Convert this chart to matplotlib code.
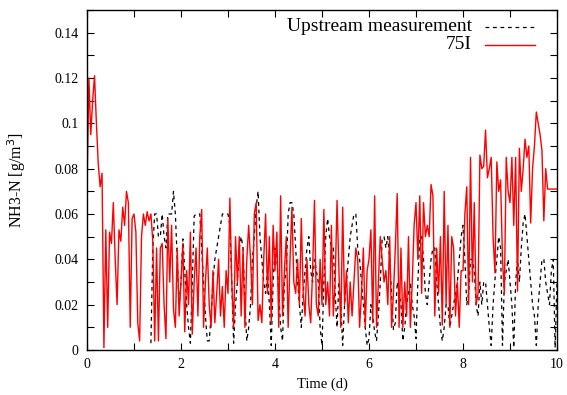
import numpy as np
import matplotlib
matplotlib.use("Agg")
import matplotlib.pyplot as plt
from matplotlib.ticker import MultipleLocator

plt.rcParams['font.family'] = ['Liberation Serif', 'DejaVu Serif']

# time grid (days), one sample every 0.04 d
time = np.linspace(0, 10, 251)
black_start = 34  # upstream measurement starts at t = 1.36 d

# 75I model output [g/m3]
nh3_75i = [
    0.070, 0.120, 0.095, 0.110, 0.121, 0.100, 0.082, 0.072, 0.078, 0.001, 0.053, 0.010, 0.052,
    0.047, 0.065, 0.040, 0.020, 0.053, 0.048, 0.063, 0.055, 0.070, 0.065, 0.010, 0.058,
    0.060, 0.052, 0.012, 0.004, 0.050, 0.060, 0.055, 0.061, 0.057, 0.060, 0.048, 0.004, 0.045,
    0.004, 0.045, 0.047, 0.020, 0.005, 0.058, 0.030, 0.055, 0.018, 0.010, 0.045, 0.015,
    0.030, 0.047, 0.008, 0.035, 0.020, 0.052, 0.007, 0.030, 0.045, 0.015, 0.050, 0.062, 0.010,
    0.030, 0.045, 0.020, 0.010, 0.035, 0.012, 0.025, 0.040, 0.015, 0.028, 0.010, 0.035,
    0.025, 0.067, 0.030, 0.010, 0.050, 0.030, 0.050, 0.015, 0.045, 0.010, 0.040, 0.055, 0.040,
    0.020, 0.060, 0.065, 0.013, 0.020, 0.012, 0.040, 0.060, 0.025, 0.050, 0.012, 0.055,
    0.035, 0.052, 0.010, 0.068, 0.015, 0.035, 0.050, 0.010, 0.040, 0.063, 0.030, 0.025, 0.040,
    0.020, 0.058, 0.025, 0.015, 0.040, 0.020, 0.012, 0.035, 0.066, 0.020, 0.015, 0.040,
    0.020, 0.062, 0.020, 0.030, 0.015, 0.055, 0.015, 0.030, 0.066, 0.035, 0.010, 0.063, 0.020,
    0.035, 0.012, 0.030, 0.015, 0.030, 0.045, 0.040, 0.010, 0.025, 0.045, 0.010, 0.035,
    0.040, 0.053, 0.012, 0.068, 0.010, 0.030, 0.050, 0.040, 0.030, 0.035, 0.020, 0.050, 0.010,
    0.025, 0.045, 0.069, 0.010, 0.045, 0.010, 0.030, 0.015, 0.050, 0.010, 0.030, 0.055,
    0.065, 0.040, 0.068, 0.025, 0.065, 0.050, 0.055, 0.050, 0.073, 0.068, 0.015, 0.045, 0.025,
    0.050, 0.011, 0.070, 0.020, 0.055, 0.010, 0.050, 0.045, 0.015, 0.030, 0.010, 0.035,
    0.035, 0.060, 0.072, 0.020, 0.085, 0.030, 0.065, 0.020, 0.025, 0.086, 0.080, 0.081, 0.097,
    0.076, 0.080, 0.085, 0.050, 0.034, 0.083, 0.070, 0.075, 0.040, 0.025, 0.085, 0.070,
    0.065, 0.085, 0.055, 0.085, 0.026, 0.089, 0.070, 0.080, 0.093, 0.085, 0.090, 0.056, 0.080,
    0.090, 0.105, 0.100, 0.095, 0.088, 0.057, 0.080, 0.071, 0.071, 0.071, 0.071, 0.071,
    0.071,
]

# upstream measurement [g/m3], from t = 1.36 d
nh3_upstream = [
    0.003, 0.045, 0.060, 0.060, 0.050, 0.050, 0.060, 0.050, 0.045, 0.060, 0.060, 0.060, 0.070,
    0.060, 0.040, 0.020,
    0.030, 0.049, 0.035, 0.020, 0.010, 0.003, 0.030, 0.059, 0.060, 0.060, 0.060, 0.045, 0.030,
    0.015, 0.004, 0.004, 0.015, 0.030, 0.040, 0.045, 0.050, 0.055, 0.060, 0.060, 0.060,
    0.060, 0.055, 0.030, 0.003, 0.020, 0.030, 0.045, 0.050, 0.045, 0.020, 0.004, 0.010, 0.020,
    0.040, 0.050, 0.063, 0.070, 0.050, 0.040, 0.030, 0.025, 0.035, 0.020, 0.002, 0.030,
    0.045, 0.040, 0.025, 0.010, 0.004, 0.030, 0.035, 0.060, 0.065, 0.065, 0.060, 0.045, 0.030,
    0.020, 0.010, 0.025, 0.035, 0.045, 0.050, 0.035, 0.030, 0.040, 0.035, 0.030, 0.010,
    0.002, 0.030, 0.050, 0.058, 0.050, 0.045, 0.045, 0.025, 0.010, 0.030, 0.020, 0.002, 0.020,
    0.030, 0.040, 0.050, 0.055, 0.060, 0.060, 0.045, 0.040, 0.030, 0.020, 0.010, 0.002,
    0.005, 0.020, 0.015, 0.008, 0.004, 0.015, 0.030, 0.049, 0.050, 0.045, 0.050, 0.040, 0.025,
    0.009, 0.012, 0.030, 0.025, 0.020, 0.004, 0.010, 0.020, 0.025, 0.030, 0.020, 0.015,
    0.005, 0.030, 0.050, 0.050, 0.040, 0.025, 0.020, 0.030, 0.040, 0.045, 0.045, 0.030, 0.020,
    0.010, 0.004, 0.010, 0.020, 0.020, 0.010, 0.015, 0.020, 0.025, 0.030, 0.040, 0.050,
    0.055, 0.040, 0.020, 0.025, 0.040, 0.040, 0.035, 0.020, 0.015, 0.030, 0.020, 0.030, 0.030,
    0.020, 0.010, 0.002, 0.020, 0.031, 0.040, 0.050, 0.045, 0.002, 0.030, 0.035, 0.040,
    0.030, 0.020, 0.001, 0.030, 0.040, 0.030, 0.045, 0.056, 0.060, 0.050, 0.040, 0.030, 0.020,
    0.015, 0.002, 0.020, 0.030, 0.040, 0.040, 0.030, 0.025, 0.020, 0.035, 0.040, 0.001,
    0.030,
]

fig = plt.figure(figsize=(5.67, 3.95), dpi=100)
ax = fig.add_axes([87 / 567, 45 / 395, 470 / 567, 340 / 395])

ax.plot(time[black_start:], nh3_upstream, color='black', lw=0.9,
        dashes=(3, 3))
ax.plot(time, nh3_75i, color='#ff0000', lw=1.0)

ax.set_xlim(0, 10)
ax.set_ylim(0, 0.15)
ax.xaxis.set_major_locator(MultipleLocator(2))
ax.xaxis.set_minor_locator(MultipleLocator(1))
ax.yaxis.set_minor_locator(MultipleLocator(0.01))
ax.set_yticks([0, 0.02, 0.04, 0.06, 0.08, 0.1, 0.12, 0.14])
ax.set_yticklabels(['0', '0.02', '0.04', '0.06', '0.08', '0.1', '0.12', '0.14'])
ax.tick_params(which='both', direction='in', top=True, right=True,
               length=5, width=0.8, labelsize=10, pad=6)
for s in ax.spines.values():
    s.set_linewidth(1.0)

ax.set_xlabel('Time (d)', fontsize=10.5)
ax.set_ylabel('NH3-N [g/m$^3$]', fontsize=11.5)
ax.xaxis.set_label_coords(0.5, -0.082)
ax.yaxis.set_label_coords(-0.125, 0.5)

# gnuplot-style key, text right-aligned next to the sample line
tx = (472 - 87) / 470
lx0, lx1 = (485 - 87) / 470, (535 - 87) / 470
for yy, label, kw in [((350 - 27) / 340, 'Upstream measurement',
                       dict(color='black', lw=0.9, dashes=(3, 3))),
                      ((350 - 45) / 340, '75I',
                       dict(color='#ff0000', lw=1.0))]:
    ax.text(tx, yy, label, transform=ax.transAxes, ha='right', va='center',
            fontsize=14)
    ax.plot([lx0, lx1], [yy, yy], transform=ax.transAxes, **kw)

fig.savefig('out.png', dpi=100)
